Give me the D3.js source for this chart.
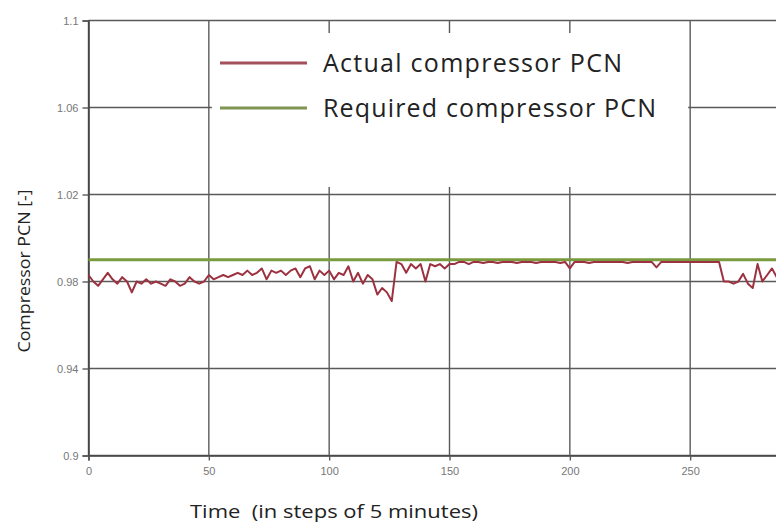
<!DOCTYPE html>
<html>
<head>
<meta charset="utf-8">
<script src="https://d3js.org/d3.v7.min.js"></script>
<style>
  body { margin: 0; background: #fff; }
  svg { display: block; }
</style>
</head>
<body>
<div id="chart"></div>
<script>
// chart data
var xTicks = [0, 50, 100, 150, 200, 250];
var yTicks = [0.9, 0.94, 0.98, 1.02, 1.06, 1.1];
var yTickLabels = ["0.9", "0.94", "0.98", "1.02", "1.06", "1.1"];
var seriesNames = ["Actual compressor PCN", "Required compressor PCN"];

// actual PCN sampled every 2 steps, t = 0..288
var actualStep = 2;
var actualPCN = [
  0.983, 0.980, 0.978, 0.981, 0.984, 0.981, 0.979, 0.982, 0.980, 0.975,
  0.980, 0.979, 0.981, 0.979, 0.980, 0.979, 0.978, 0.981, 0.980, 0.978,
  0.979, 0.982, 0.980, 0.979, 0.980, 0.983, 0.981, 0.982, 0.983, 0.982,
  0.983, 0.984, 0.983, 0.985, 0.983, 0.984, 0.986, 0.981, 0.985, 0.984,
  0.985, 0.983, 0.985, 0.986, 0.982, 0.986, 0.987, 0.981, 0.985, 0.983,
  0.985, 0.981, 0.984, 0.983, 0.987, 0.980, 0.984, 0.979, 0.983, 0.981,
  0.974, 0.977, 0.975, 0.971, 0.989, 0.988, 0.984, 0.988, 0.986, 0.988,
  0.980, 0.988, 0.987, 0.988, 0.986, 0.988, 0.988, 0.989, 0.989, 0.988,
  0.989, 0.989, 0.9885, 0.989, 0.989, 0.9885, 0.989, 0.989, 0.989, 0.9885,
  0.989, 0.989, 0.989, 0.9885, 0.989, 0.989, 0.989, 0.989, 0.9885, 0.989,
  0.986, 0.989, 0.989, 0.989, 0.9885, 0.989, 0.989, 0.989, 0.989, 0.989,
  0.989, 0.989, 0.9885, 0.989, 0.989, 0.989, 0.989, 0.989, 0.9865, 0.989,
  0.989, 0.989, 0.989, 0.989, 0.989, 0.989, 0.989, 0.989, 0.989, 0.989,
  0.989, 0.989, 0.980, 0.980, 0.979, 0.980, 0.9835, 0.979, 0.977, 0.988,
  0.980, 0.983, 0.986, 0.982, 0.984
];
var requiredPCN = [0.99, 0.99];
var requiredTimes = [0, 300];

var svgWidth = 776;
var svgHeight = 524;

var svg = d3.select("#chart")
  .append("svg")
  .attr("width", svgWidth)
  .attr("height", svgHeight);

// plot area runs past the right edge, like the cropped original
var x = d3.scaleLinear().domain([0, 300]).range([88.5, 810.5]);
var y = d3.scaleLinear().domain([0.9, 1.1]).range([455.5, 20.5]);

var gridColor = "#5a5a5a";

// grid lines
svg.append("g")
  .selectAll("line")
  .data(yTicks)
  .enter()
  .append("line")
  .attr("x1", x(0))
  .attr("x2", svgWidth)
  .attr("y1", d => y(d))
  .attr("y2", d => y(d))
  .attr("stroke", gridColor)
  .attr("stroke-width", 1.4);

svg.append("g")
  .selectAll("line")
  .data(xTicks)
  .enter()
  .append("line")
  .attr("x1", d => x(d))
  .attr("x2", d => x(d))
  .attr("y1", y(1.1))
  .attr("y2", y(0.9))
  .attr("stroke", gridColor)
  .attr("stroke-width", 1.4);

// legend background hides the grid behind it
svg.append("rect")
  .attr("x", x(50) + 3)
  .attr("y", 33)
  .attr("width", x(250) - x(50) - 5)
  .attr("height", 154)
  .attr("fill", "#fff");

// y axis
var yAxis = d3.axisLeft(y)
  .tickValues(yTicks)
  .tickSize(6)
  .tickFormat((d, i) => yTickLabels[i]);

svg.append("g")
  .attr("transform", `translate(${x(0)},0)`)
  .call(yAxis)
  .call(g => g.select(".domain").attr("stroke", "#444").attr("stroke-width", 1.6))
  .call(g => g.selectAll(".tick line").attr("stroke", gridColor).attr("stroke-width", 1.4))
  .call(g => g.selectAll(".tick text")
    .attr("x", -10)
    .attr("fill", "#777")
    .style("font-family", "Arial, 'Liberation Sans', sans-serif")
    .style("font-size", "11px"));

// x axis
var xAxis = d3.axisBottom(x)
  .tickValues(xTicks)
  .tickSize(5)
  .tickFormat(d3.format("d"));

svg.append("g")
  .attr("transform", `translate(0,${y(0.9)})`)
  .call(xAxis)
  .call(g => g.select(".domain").attr("stroke", "#444").attr("stroke-width", 1.6))
  .call(g => g.selectAll(".tick line").attr("stroke", gridColor).attr("stroke-width", 1.4))
  .call(g => g.selectAll(".tick text")
    .attr("y", 12)
    .attr("fill", "#777")
    .style("font-family", "Arial, 'Liberation Sans', sans-serif")
    .style("font-size", "11px"));

// series lines
var line = d3.line()
  .x(d => x(d.t))
  .y(d => y(d.v));

var requiredData = requiredTimes.map((t, i) => ({ t: t, v: requiredPCN[i] }));
var actualData = actualPCN.map((v, i) => ({ t: i * actualStep, v: v }));

svg.append("path")
  .datum(requiredData)
  .attr("d", line)
  .attr("fill", "none")
  .attr("stroke", "#7a9a3e")
  .attr("stroke-width", 3.2);

svg.append("path")
  .datum(actualData)
  .attr("d", line)
  .attr("fill", "none")
  .attr("stroke", "#9c3140")
  .attr("stroke-width", 2)
  .attr("stroke-linejoin", "round");

// legend
var legendColors = ["#a3505c", "#7f9550"];
var legendWidths = [299, 333];
var legend = svg.append("g");

seriesNames.forEach(function(name, i) {
  var ly = 63 + i * 45;
  legend.append("line")
    .attr("x1", 220)
    .attr("x2", 307)
    .attr("y1", ly)
    .attr("y2", ly)
    .attr("stroke", legendColors[i])
    .attr("stroke-width", 3);
  legend.append("text")
    .attr("x", 323)
    .attr("y", ly + 9)
    .attr("textLength", legendWidths[i])
    .attr("lengthAdjust", "spacing")
    .attr("fill", "#222")
    .style("font-family", "'Open Sans', sans-serif")
    .style("font-size", "25px")
    .text(name);
});

// axis titles
svg.append("text")
  .attr("transform", "rotate(-90)")
  .attr("x", -271)
  .attr("y", 30)
  .attr("text-anchor", "middle")
  .attr("textLength", 163)
  .attr("lengthAdjust", "spacingAndGlyphs")
  .attr("fill", "#222")
  .style("font-family", "'Open Sans', sans-serif")
  .style("font-size", "17px")
  .text("Compressor PCN [-]");

svg.append("text")
  .attr("x", 190)
  .attr("y", 518)
  .attr("textLength", 288)
  .attr("lengthAdjust", "spacingAndGlyphs")
  .attr("fill", "#222")
  .style("font-family", "'Open Sans', sans-serif")
  .style("font-size", "19px")
  .style("white-space", "pre")
  .text("Time  (in steps of 5 minutes)");
</script>
</body>
</html>
